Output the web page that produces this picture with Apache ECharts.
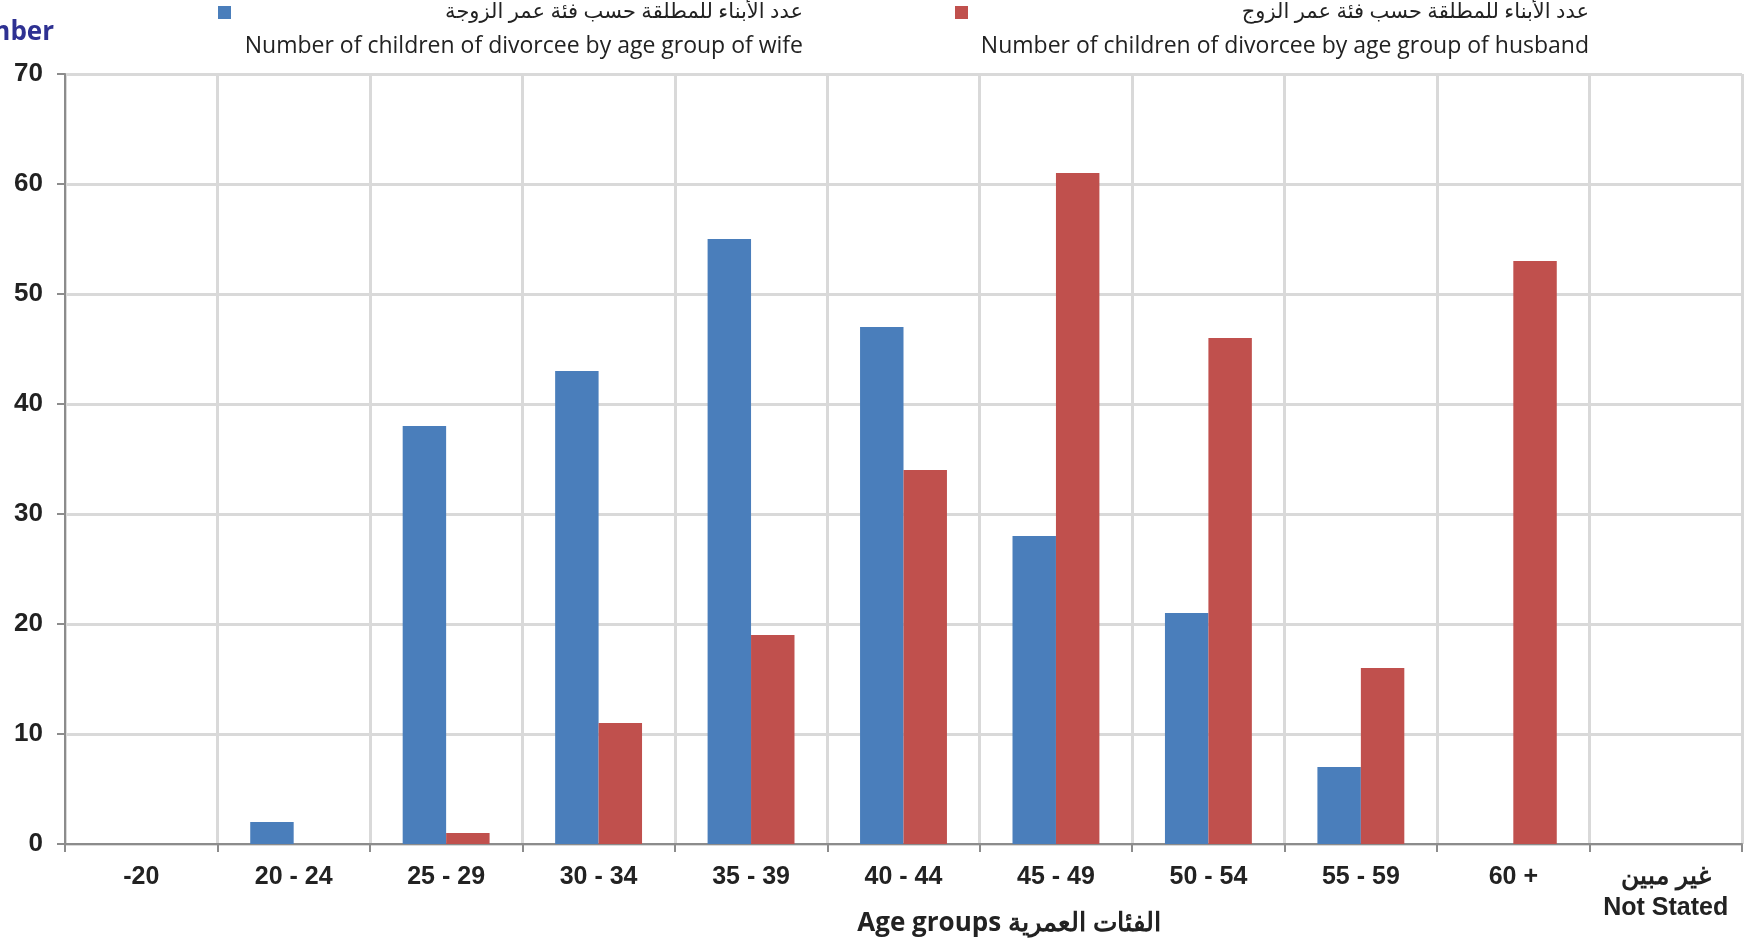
<!DOCTYPE html>
<html><head><meta charset="utf-8">
<script src="https://cdn.jsdelivr.net/npm/echarts@6/dist/echarts.min.js"></script>
<style>html,body{margin:0;padding:0;background:#fff}#c{width:1748px;height:948px}</style>
</head><body><div id="c"></div>
<script>
const categories = ['-20','20 - 24','25 - 29','30 - 34','35 - 39','40 - 44','45 - 49','50 - 54','55 - 59','60 +','غير مبين\nNot Stated'];
const wifeValues = [0,2,38,43,55,47,28,21,7,0,0];
const husbandValues = [0,0,1,11,19,34,61,46,16,53,0];
const wifeNameAr = 'عدد الأبناء للمطلقة حسب فئة عمر الزوجة';
const wifeNameEn = 'Number of children of divorcee by age group of wife';
const husbandNameAr = 'عدد الأبناء للمطلقة حسب فئة عمر الزوج';
const husbandNameEn = 'Number of children of divorcee by age group of husband';
const yTicks = {min:0,max:70,interval:10};
const yTitle = 'Number';
const xTitle = 'Age groups الفئات العمرية';

const chart = echarts.init(document.getElementById('c'));
const legendFont = '"Open Sans", "DejaVu Sans", sans-serif';
chart.setOption({
  animation:false,
  grid:{left:65,right:6,top:74,bottom:104,containLabel:false},
  xAxis:{type:'category',data:categories,
    axisLine:{lineStyle:{color:'#8c8c8c',width:2}},
    axisTick:{show:true,length:8,lineStyle:{color:'#8c8c8c',width:2}},
    splitLine:{show:true,lineStyle:{color:'#d9d9d9',width:3}},
    axisLabel:{color:'#222',fontFamily:'Arial, "Liberation Sans", sans-serif',fontWeight:'bold',fontSize:25,margin:18,lineHeight:31,interval:0}
  },
  yAxis:{type:'value',min:yTicks.min,max:yTicks.max,interval:yTicks.interval,
    axisLine:{show:true,lineStyle:{color:'#8c8c8c',width:2}},
    axisTick:{show:true,length:8,lineStyle:{color:'#8c8c8c',width:2}},
    splitLine:{show:true,lineStyle:{color:'#d9d9d9',width:3}},
    axisLabel:{color:'#222',fontFamily:'Arial, "Liberation Sans", sans-serif',fontWeight:'bold',fontSize:26,margin:22}
  },
  series:[
    {name:wifeNameEn,type:'bar',data:wifeValues,barGap:'0%',barCategoryGap:'43%',itemStyle:{color:'#4A7EBB'}},
    {name:husbandNameEn,type:'bar',data:husbandValues,itemStyle:{color:'#C0504D'}}
  ],
  graphic:[
    {type:'text',right:1748-54,top:20,style:{text:yTitle,font:'bold 26px "Open Sans", sans-serif',fill:'#2E3192',textAlign:'right'}},
    {type:'rect',shape:{x:218,y:6,width:13,height:13},style:{fill:'#4A7EBB'}},
    {type:'text',x:803,y:12,style:{text:wifeNameAr,font:'21px '+legendFont,fill:'#222',textAlign:'right',textVerticalAlign:'middle'}},
    {type:'text',x:803,y:46,style:{text:wifeNameEn,font:'23px '+legendFont,fill:'#222',textAlign:'right',textVerticalAlign:'middle'}},
    {type:'rect',shape:{x:955,y:6,width:13,height:13},style:{fill:'#C0504D'}},
    {type:'text',x:1589,y:12,style:{text:husbandNameAr,font:'21px '+legendFont,fill:'#222',textAlign:'right',textVerticalAlign:'middle'}},
    {type:'text',x:1589,y:46,style:{text:husbandNameEn,font:'23px '+legendFont,fill:'#222',textAlign:'right',textVerticalAlign:'middle'}},
    {type:'text',x:1009,y:924,style:{text:xTitle,font:'bold 26px "Open Sans", sans-serif',fill:'#222',textAlign:'center',textVerticalAlign:'middle'}}
  ]
});
</script></body></html>
